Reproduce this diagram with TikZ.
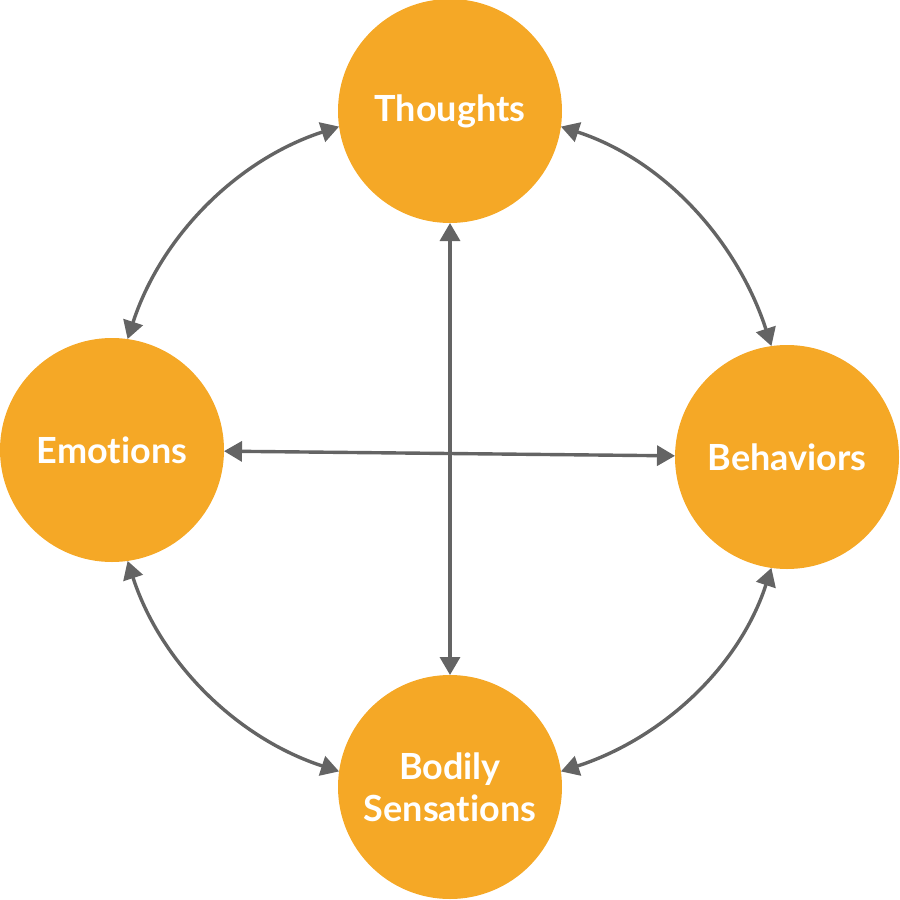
\documentclass[tikz,border=0pt]{standalone}
\usepackage{fontspec}
\setmainfont[Ligatures={NoCommon,NoDiscretionary}]{Lato}
\usetikzlibrary{arrows.meta}
\definecolor{orng}{RGB}{245,168,38}
\definecolor{arrgray}{RGB}{100,100,100}
\begin{document}
\begin{tikzpicture}[x=0.5pt,y=0.5pt,
  bubble/.style={circle,fill=orng,draw=none,minimum size=112pt,inner sep=0pt,outer sep=0pt,
    text=white,font=\fontsize{18}{21}\selectfont\bfseries,align=center},
  link/.style={draw=arrgray,line width=1.7pt,{Triangle[length=9pt,width=10pt]}-{Triangle[length=9pt,width=10pt]}}]
\useasboundingbox (0,0) rectangle (900,-900);
\node[bubble] (T) at (450,-111) {Thoughts};
\node[bubble] (E) at (112,-450) {Emotions};
\node[bubble] (B) at (787,-457) {Behaviors};
\node[bubble] (S) at (450,-787) {Bodily\\Sensations};
\draw[link] (T.188) to[out=198,in=72,looseness=0.92] (E.82);
\draw[link] (T.-8) to[out=-18,in=108,looseness=0.92] (B.98);
\draw[link] (S.172) to[out=162,in=-72,looseness=0.92] (E.-82);
\draw[link] (S.8) to[out=18,in=-108,looseness=0.92] (B.-98);
\draw[link] (T) -- (S);
\draw[link] (E) -- (B);
\end{tikzpicture}
\end{document}
